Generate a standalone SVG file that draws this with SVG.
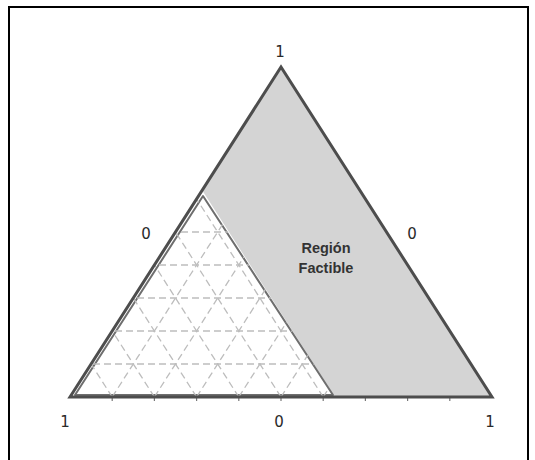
<svg xmlns="http://www.w3.org/2000/svg" width="535" height="460" viewBox="0 0 535 460">
<style>
.lbl{font-family:"DejaVu Sans","Liberation Sans",sans-serif;font-size:15px;fill:#2a2a2a;text-anchor:middle}
.reg{font-family:"Liberation Sans",Arial,sans-serif;font-size:14.5px;font-weight:bold;fill:#333;text-anchor:middle}
.grid line{stroke:#bdbdbd;stroke-width:1.3;stroke-dasharray:7 4}
.tick{stroke:#777;stroke-width:1.2}
</style>
<defs>
<clipPath id="whiteClip"><polygon points="72,396 202,192 334,396"/></clipPath>
</defs>
<rect id="frame" x="9" y="7" width="519" height="470" fill="#fff" stroke="#000" stroke-width="2"/>
<g id="region">
<polygon points="202,190 281,67 492,397 335,397" fill="#d4d4d4"/>
<polygon points="75,395 203,196 333,395" fill="#fff" stroke="#6e6e6e" stroke-width="2" stroke-linejoin="round"/>
</g>
<g id="grid" class="grid" clip-path="url(#whiteClip)">
<line x1="60" y1="364" x2="350" y2="364"/>
<line x1="60" y1="331" x2="350" y2="331"/>
<line x1="60" y1="298" x2="350" y2="298"/>
<line x1="60" y1="265" x2="350" y2="265"/>
<line x1="60" y1="232" x2="350" y2="232"/>
<line x1="112.2" y1="397" x2="323.2" y2="67"/>
<line x1="154.4" y1="397" x2="365.4" y2="67"/>
<line x1="196.6" y1="397" x2="407.6" y2="67"/>
<line x1="238.8" y1="397" x2="449.8" y2="67"/>
<line x1="281" y1="397" x2="492" y2="67"/>
<line x1="323.2" y1="397" x2="534.2" y2="67"/>
<line x1="112.2" y1="397" x2="-98.8" y2="67"/>
<line x1="154.4" y1="397" x2="-56.6" y2="67"/>
<line x1="196.6" y1="397" x2="-14.4" y2="67"/>
<line x1="238.8" y1="397" x2="27.8" y2="67"/>
<line x1="281" y1="397" x2="70" y2="67"/>
<line x1="323.2" y1="397" x2="112.2" y2="67"/>
<line x1="365.4" y1="397" x2="154.4" y2="67"/>
</g>
<g id="ticks" class="tick">
<line x1="112.2" y1="398" x2="112.2" y2="401"/>
<line x1="154.4" y1="398" x2="154.4" y2="401"/>
<line x1="196.6" y1="398" x2="196.6" y2="401"/>
<line x1="238.8" y1="398" x2="238.8" y2="401"/>
<line x1="281" y1="398" x2="281" y2="401"/>
<line x1="323.2" y1="398" x2="323.2" y2="401"/>
<line x1="365.4" y1="398" x2="365.4" y2="401"/>
<line x1="407.6" y1="398" x2="407.6" y2="401"/>
<line x1="449.8" y1="398" x2="449.8" y2="401"/>
</g>
<g id="triangle">
<polygon points="70,397 281,67 492,397" fill="none" stroke="#4d4d4d" stroke-width="3" stroke-linejoin="miter"/>
</g>
<g id="labels">
<text class="lbl" x="280" y="57">1</text>
<text class="lbl" x="146" y="239">0</text>
<text class="lbl" x="412" y="239">0</text>
<text class="lbl" x="65" y="427">1</text>
<text class="lbl" x="279" y="427">0</text>
<text class="lbl" x="490" y="427">1</text>
<text class="reg" x="326" y="253">Región</text>
<text class="reg" x="326" y="273">Factible</text>
</g>
</svg>
